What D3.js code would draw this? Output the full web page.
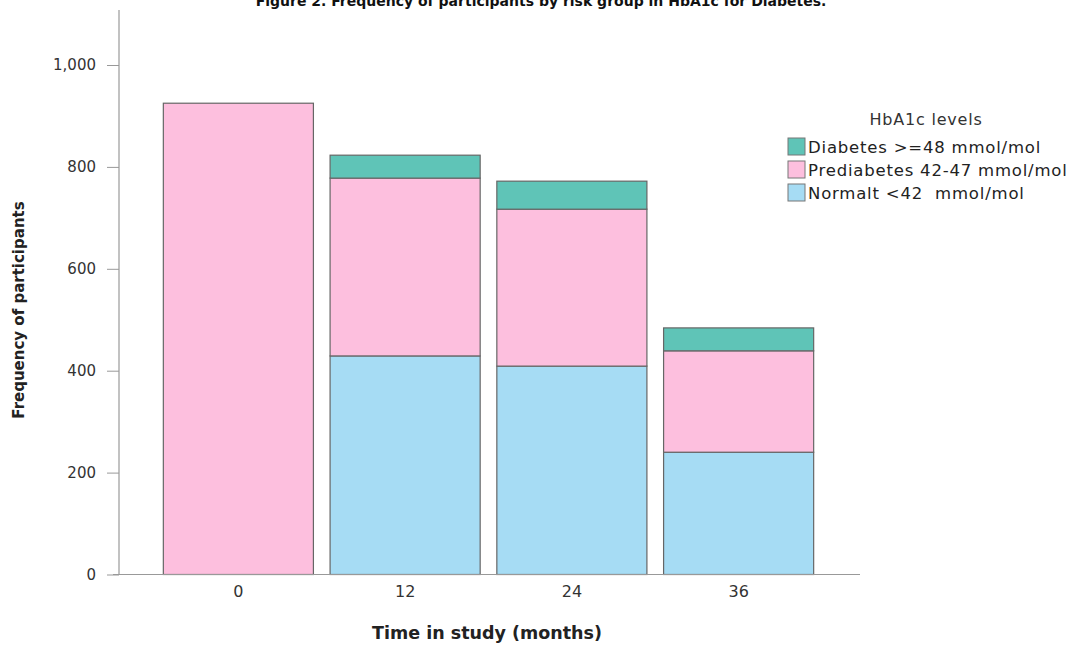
<!DOCTYPE html>
<html><head><meta charset="utf-8">
<script src="https://cdn.jsdelivr.net/npm/d3@7"></script>
<style>body{margin:0;background:#fff}svg{display:block}text{font-family:"DejaVu Sans",Verdana,sans-serif}</style>
</head><body><svg id="c" width="1073" height="646"></svg>
<script>
const categories = ["0","12","24","36"];
const normalt = [0, 429, 409, 240];
const prediabetes = [925, 349, 308, 199];
const diabetes = [0, 45, 55, 45];
const seriesNames = ["Diabetes >=48 mmol/mol","Prediabetes 42-47 mmol/mol","Normalt <42  mmol/mol"];
const seriesColors = ["#5fc4b7","#fdbfde","#a6dcf4"];
const yTicks = [0,200,400,600,800,1000];

const svg = d3.select("#c");
const x = d3.scaleBand().domain(categories).range([155,822]).paddingInner(0.1).paddingOuter(0.05);
const y = d3.scaleLinear().domain([0,1000]).range([574.5,65]);

const rows = categories.map((c,i)=>({cat:c, normalt:normalt[i], prediabetes:prediabetes[i], diabetes:diabetes[i]}));
const stack = d3.stack().keys(["normalt","prediabetes","diabetes"])(rows);
const colorByKey = {normalt:seriesColors[2], prediabetes:seriesColors[1], diabetes:seriesColors[0]};

// title (clipped at top in the reference)
svg.append("text").attr("x",541).attr("y",6).attr("text-anchor","middle")
  .attr("font-size",14).attr("font-weight","bold").attr("fill","#111")
  .text("Figure 2. Frequency of participants by risk group in HbA1c for Diabetes.");

// bars
stack.forEach(s=>{
  svg.append("g").selectAll("rect").data(s.filter(d=>d[1]-d[0]>0)).join("rect")
    .attr("x",d=>x(d.data.cat)).attr("width",x.bandwidth())
    .attr("y",d=>y(d[1])).attr("height",d=>y(d[0])-y(d[1]))
    .attr("fill",colorByKey[s.key]).attr("stroke","#666").attr("stroke-width",1.2);
});

// y axis
const yAxis = d3.axisLeft(y).tickValues(yTicks).tickSize(12).tickPadding(11).tickFormat(d3.format(","));
const gy = svg.append("g").attr("transform","translate(119,0)").call(yAxis);
gy.select(".domain").remove();
gy.selectAll(".tick line").attr("stroke","#999");
gy.selectAll(".tick text").attr("font-size",15).attr("fill","#333").attr("font-family","DejaVu Sans");
svg.append("line").attr("x1",119).attr("x2",119).attr("y1",10).attr("y2",y(0)).attr("stroke","#999").attr("stroke-width",1.2);

// x axis
const xAxis = d3.axisBottom(x).tickSize(0).tickPadding(11);
const gx = svg.append("g").attr("transform",`translate(0,${y(0)})`).call(xAxis);
gx.select(".domain").remove();
gx.selectAll(".tick text").attr("font-size",16).attr("fill","#333").attr("font-family","DejaVu Sans Condensed");
svg.append("line").attr("x1",113).attr("x2",860).attr("y1",y(0)).attr("y2",y(0)).attr("stroke","#999").attr("stroke-width",1.2);

// axis titles
svg.append("text").attr("x",487).attr("y",639).attr("text-anchor","middle")
  .attr("font-size",17.5).attr("font-weight","bold").attr("font-family","DejaVu Sans Condensed").attr("fill","#222")
  .text("Time in study (months)");
svg.append("text").attr("transform","translate(24,310) rotate(-90)").attr("text-anchor","middle")
  .attr("font-size",15).attr("font-weight","bold").attr("font-family","DejaVu Sans Condensed").attr("fill","#222")
  .text("Frequency of participants");

// legend
svg.append("text").attr("x",926).attr("y",125).attr("text-anchor","middle").attr("font-size",16)
  .attr("letter-spacing",0.8).attr("fill","#333").text("HbA1c levels");
const lg = svg.append("g").selectAll("g").data(seriesNames).join("g")
  .attr("transform",(d,i)=>`translate(788,${138+i*23})`);
lg.append("rect").attr("width",17).attr("height",17).attr("fill",(d,i)=>seriesColors[i]).attr("stroke","#777");
lg.append("text").attr("x",20).attr("y",14.5).attr("font-size",16.5).attr("letter-spacing",0.8)
  .attr("fill","#222").attr("xml:space","preserve").style("white-space","pre").text(d=>d);
</script></body></html>
